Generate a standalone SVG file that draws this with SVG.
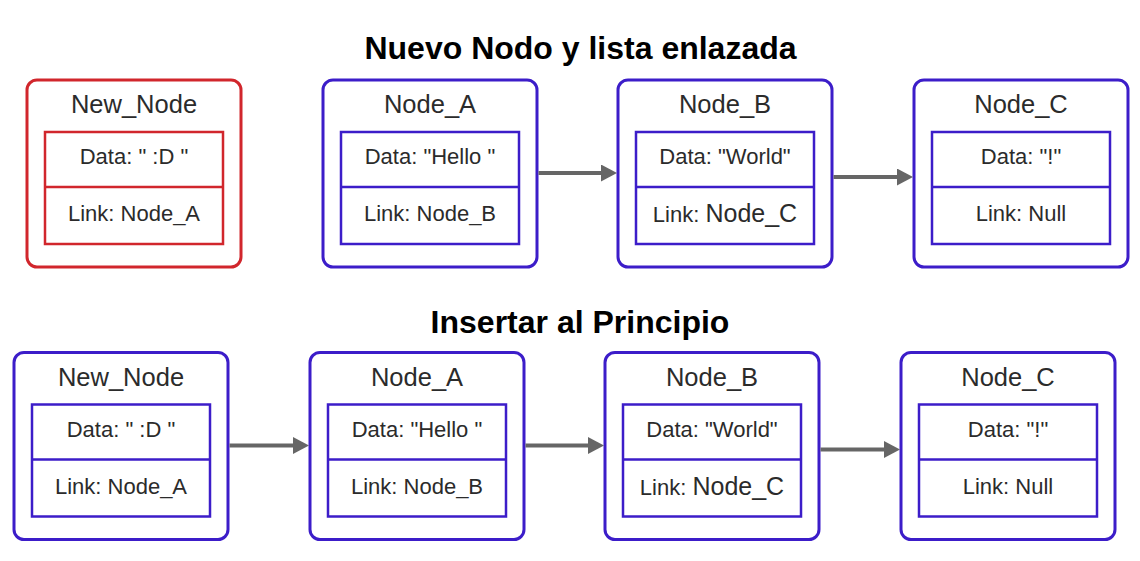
<svg xmlns="http://www.w3.org/2000/svg" width="1140" height="561" viewBox="0 0 1140 561">
<defs>
<style>
.outer{fill:#fff;stroke-width:3}
.inner{fill:#fff;stroke-width:2.5}
.red .outer,.red .inner,.red line{stroke:#d1262c}
.blue .outer,.blue .inner,.blue line{stroke:#3c1dc9}
.t{font-family:"Liberation Sans",Arial,sans-serif;fill:#2b2b2b;text-anchor:middle}
.name{font-size:25.5px}
.f{font-size:22px}
.big{font-size:25px}
.h{font-family:"Liberation Sans",Arial,sans-serif;font-weight:bold;font-size:32px;fill:#000;text-anchor:middle}
.conn line{stroke:#666;stroke-width:4}
</style>
<marker id="ah" markerUnits="userSpaceOnUse" markerWidth="18" markerHeight="18" refX="0" refY="8.5" orient="auto">
<path d="M0,0 L16,8.5 L0,17 Z" fill="#666"/>
</marker>
</defs>
<rect width="1140" height="561" fill="#fff"/>
<text class="h" x="580.5" y="59">Nuevo Nodo y lista enlazada</text>
<text class="h" x="580" y="333">Insertar al Principio</text>

<g id="top_new_node" class="red" transform="translate(27,80)">
<rect class="outer" x="0" y="0" width="214" height="187" rx="10"/>
<rect class="inner" x="18" y="52" width="178" height="112"/>
<line x1="18" y1="107" x2="196" y2="107" stroke-width="2.5"/>
<text class="t name" x="107" y="33">New_Node</text>
<text class="t f" x="107" y="84">Data: " :D "</text>
<text class="t f" x="107" y="141">Link: Node_A</text>
</g>
<g id="top_node_a" class="blue" transform="translate(323,80)">
<rect class="outer" x="0" y="0" width="214" height="187" rx="10"/>
<rect class="inner" x="18" y="52" width="178" height="112"/>
<line x1="18" y1="107" x2="196" y2="107" stroke-width="2.5"/>
<text class="t name" x="107" y="33">Node_A</text>
<text class="t f" x="107" y="84">Data: "Hello "</text>
<text class="t f" x="107" y="141">Link: Node_B</text>
</g>
<g id="top_node_b" class="blue" transform="translate(618,80)">
<rect class="outer" x="0" y="0" width="214" height="187" rx="10"/>
<rect class="inner" x="18" y="52" width="178" height="112"/>
<line x1="18" y1="107" x2="196" y2="107" stroke-width="2.5"/>
<text class="t name" x="107" y="33">Node_B</text>
<text class="t f" x="107" y="84">Data: "World"</text>
<text class="t f" x="107" y="142">Link: <tspan class="big">Node_C</tspan></text>
</g>
<g id="top_node_c" class="blue" transform="translate(914,80)">
<rect class="outer" x="0" y="0" width="214" height="187" rx="10"/>
<rect class="inner" x="18" y="52" width="178" height="112"/>
<line x1="18" y1="107" x2="196" y2="107" stroke-width="2.5"/>
<text class="t name" x="107" y="33">Node_C</text>
<text class="t f" x="107" y="84">Data: "!"</text>
<text class="t f" x="107" y="141">Link: Null</text>
</g>

<g id="bot_new_node" class="blue" transform="translate(14,352.5)">
<rect class="outer" x="0" y="0" width="214" height="187" rx="10"/>
<rect class="inner" x="18" y="52" width="178" height="112"/>
<line x1="18" y1="107" x2="196" y2="107" stroke-width="2.5"/>
<text class="t name" x="107" y="33">New_Node</text>
<text class="t f" x="107" y="84">Data: " :D "</text>
<text class="t f" x="107" y="141">Link: Node_A</text>
</g>
<g id="bot_node_a" class="blue" transform="translate(310,352.5)">
<rect class="outer" x="0" y="0" width="214" height="187" rx="10"/>
<rect class="inner" x="18" y="52" width="178" height="112"/>
<line x1="18" y1="107" x2="196" y2="107" stroke-width="2.5"/>
<text class="t name" x="107" y="33">Node_A</text>
<text class="t f" x="107" y="84">Data: "Hello "</text>
<text class="t f" x="107" y="141">Link: Node_B</text>
</g>
<g id="bot_node_b" class="blue" transform="translate(605,352.5)">
<rect class="outer" x="0" y="0" width="214" height="187" rx="10"/>
<rect class="inner" x="18" y="52" width="178" height="112"/>
<line x1="18" y1="107" x2="196" y2="107" stroke-width="2.5"/>
<text class="t name" x="107" y="33">Node_B</text>
<text class="t f" x="107" y="84">Data: "World"</text>
<text class="t f" x="107" y="142">Link: <tspan class="big">Node_C</tspan></text>
</g>
<g id="bot_node_c" class="blue" transform="translate(901,352.5)">
<rect class="outer" x="0" y="0" width="214" height="187" rx="10"/>
<rect class="inner" x="18" y="52" width="178" height="112"/>
<line x1="18" y1="107" x2="196" y2="107" stroke-width="2.5"/>
<text class="t name" x="107" y="33">Node_C</text>
<text class="t f" x="107" y="84">Data: "!"</text>
<text class="t f" x="107" y="141">Link: Null</text>
</g>

<g id="connectors" class="conn">
<line x1="538.5" y1="173" x2="601" y2="173" marker-end="url(#ah)"/>
<line x1="833.5" y1="177" x2="897" y2="177" marker-end="url(#ah)"/>
<line x1="229.5" y1="445.5" x2="293" y2="445.5" marker-end="url(#ah)"/>
<line x1="525.5" y1="445.5" x2="588" y2="445.5" marker-end="url(#ah)"/>
<line x1="820.5" y1="449.5" x2="884" y2="449.5" marker-end="url(#ah)"/>
</g>
</svg>
